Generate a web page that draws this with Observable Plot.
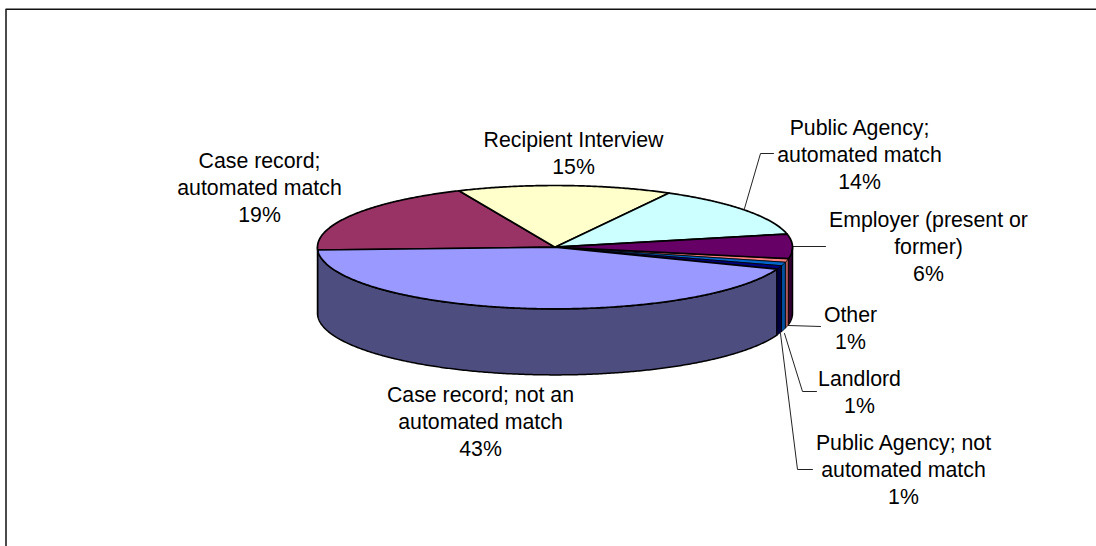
<!DOCTYPE html>
<html><head><meta charset="utf-8">
<script src="https://cdn.jsdelivr.net/npm/d3@7"></script>
<script src="https://cdn.jsdelivr.net/npm/@observablehq/plot@0.6"></script>
<style>html,body{margin:0;padding:0;background:#fff}svg{display:block}</style>
</head><body><div id="c"></div>
<script>
const labels = ["Case record;\nautomated match","Recipient Interview","Public Agency;\nautomated match","Employer (present or\nformer)","Other","Landlord","Public Agency; not\nautomated match","Case record; not an\nautomated match"];
const shares = [19.1,14.6,13.6,6.4,0.94,0.94,0.94,43.48];
const topColors = ["#993366","#FFFFCC","#CCFFFF","#660066","#FF8080","#0066CC","#000080","#9999FF"];
const sideColors = ["#4D1A33","#808066","#668080","#330033","#B05858","#00509F","#000040","#4D4D80"];
const labelX = [259,573,859,928,850,859,903,480];
const labelY = [186,151,153,245,326,390,468,420];
const leaderPaths = [null,null,[[744,208],[760,153],[773,153]],[[792,246],[825,246]],[[788,325],[820,326]],[[784,333],[802,391],[816,391]],[[780,333],[797,469],[812,469]],null];

const cx=554.5, cy=246.7, rx=237.5, ry=61.7, depth=66, startAngle=-92.6;
const rad=d=>d*Math.PI/180;
const px=t=>cx+rx*Math.sin(rad(t));
const py=t=>cy-ry*Math.cos(rad(t));
let acc=startAngle;
const slices=labels.map((label,i)=>{const a=acc;acc+=shares[i]*3.6;return {i,label,a,b:acc};});
const arc=(a,b)=>{const n=Math.max(2,Math.ceil((b-a)/0.5));return d3.range(n+1).map(k=>a+(b-a)*k/n);};

const sides=[],tops=[];
for(const s of slices){
  const thin=shares[s.i]<2;
  for(const shift of [0,360]){
    const a=Math.max(s.a+shift,90), b=Math.min(s.b+shift,270);
    if(b>a){
      const id="s"+s.i+"_"+shift;
      const ts=arc(a,b);
      const pts=[...ts.map(t=>[px(t),py(t)]),...ts.slice().reverse().map(t=>[px(t),py(t)+depth])];
      pts.push(pts[0]);
      pts.forEach(p=>sides.push({id,thin,x:p[0],y:p[1],fill:sideColors[s.i]}));
    }
  }
  const pts=[[cx,cy],...arc(s.a,s.b).map(t=>[px(t),py(t)]),[cx,cy]];
  pts.forEach(p=>tops.push({id:"t"+s.i,thin,x:p[0],y:p[1],fill:topColors[s.i]}));
}
const leaders=leaderPaths.flatMap((p,i)=>p?p.map(q=>({id:i,x:q[0],y:q[1]})):[]);
const text=slices.map((s,i)=>({x:labelX[i],y:labelY[i],t:s.label+"\n"+Math.round(shares[i])+"%"}));
const frame=[{x:5.5,y:546},{x:5.5,y:8.7},{x:1096,y:8.7}];

const chart=Plot.plot({
  width:1096,height:546,margin:0,
  x:{domain:[0,1096],axis:null},y:{domain:[546,0],axis:null},
  style:{background:"#fff"},
  marks:[
    Plot.line(frame,{x:"x",y:"y",stroke:"#111",strokeWidth:1.5}),
    Plot.line(leaders,{x:"x",y:"y",z:"id",stroke:"#222",strokeWidth:1}),
    Plot.line(sides.filter(d=>!d.thin),{x:"x",y:"y",z:"id",fill:"fill",stroke:"#000",strokeWidth:1.5}),
    Plot.line(sides.filter(d=>d.thin),{x:"x",y:"y",z:"id",fill:"fill",stroke:"#000",strokeWidth:0.8}),
    Plot.line(tops.filter(d=>d.thin),{x:"x",y:"y",z:"id",fill:"fill",stroke:"#000",strokeWidth:0.8}),
    Plot.line(tops.filter(d=>!d.thin),{x:"x",y:"y",z:"id",fill:"fill",stroke:"#000",strokeWidth:1.7}),
    Plot.text(text,{x:"x",y:"y",text:"t",fontFamily:"Liberation Sans",fontSize:21.3,lineHeight:1.28,fill:"#000",lineAnchor:"middle"})
  ]
});
document.getElementById("c").append(chart);
</script></body></html>
